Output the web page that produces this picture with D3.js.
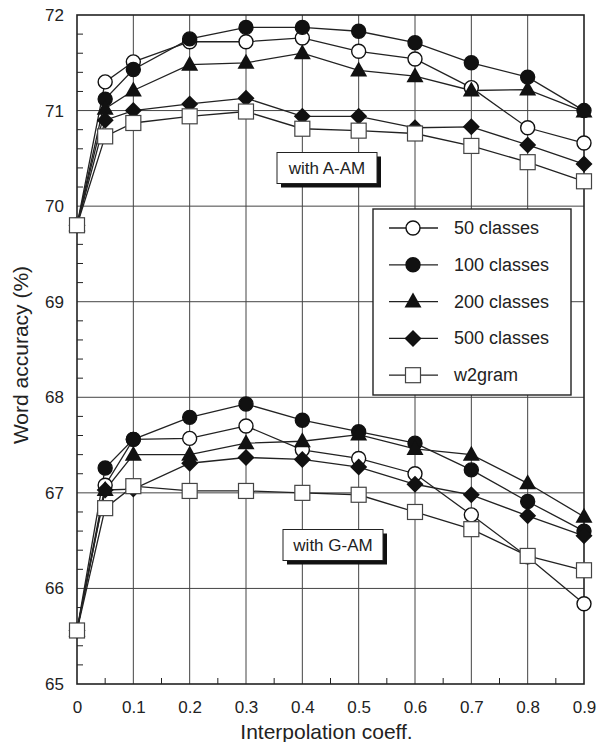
<!DOCTYPE html>
<html>
<head>
<meta charset="utf-8">
<script src="https://cdn.jsdelivr.net/npm/d3@7"></script>
<style>
  body { margin: 0; background: #fff; }
  text { font-family: "Liberation Sans", Arial, sans-serif; fill: #222; }
</style>
</head>
<body>
<div id="chart"></div>
<script>
// ------------------------------------------------------------- Data
var xValues = [0, 0.05, 0.1, 0.2, 0.3, 0.4, 0.5, 0.6, 0.7, 0.8, 0.9];

// with A-AM
var aam50    = [69.8, 71.30, 71.51, 71.72, 71.72, 71.76, 71.62, 71.54, 71.24, 70.82, 70.66];
var aam100   = [69.8, 71.12, 71.43, 71.75, 71.87, 71.87, 71.83, 71.71, 71.50, 71.35, 71.00];
var aam200   = [69.8, 71.02, 71.21, 71.48, 71.50, 71.60, 71.42, 71.36, 71.21, 71.22, 70.99];
var aam500   = [69.8, 70.90, 71.00, 71.07, 71.13, 70.94, 70.94, 70.82, 70.83, 70.64, 70.44];
var aamW2    = [69.8, 70.73, 70.87, 70.94, 70.99, 70.81, 70.79, 70.76, 70.63, 70.46, 70.26];

// with G-AM
var gam50    = [65.56, 67.08, 67.56, 67.57, 67.70, 67.45, 67.36, 67.20, 66.77, 66.33, 65.84];
var gam100   = [65.56, 67.26, 67.56, 67.79, 67.93, 67.76, 67.64, 67.52, 67.24, 66.91, 66.60];
var gam200   = [65.56, 67.03, 67.40, 67.40, 67.52, 67.54, 67.61, 67.46, 67.40, 67.10, 66.75];
var gam500   = [65.56, 67.03, 67.04, 67.31, 67.37, 67.35, 67.27, 67.09, 66.98, 66.76, 66.55];
var gamW2    = [65.56, 66.84, 67.07, 67.02, 67.02, 67.00, 66.98, 66.80, 66.62, 66.34, 66.19];

var seriesNames  = ['50 classes', '100 classes', '200 classes', '500 classes', 'w2gram'];
var seriesShapes = ['circleOpen', 'circle', 'triangle', 'diamond', 'square'];
var xTicks = [0, 0.1, 0.2, 0.3, 0.4, 0.5, 0.6, 0.7, 0.8, 0.9];
var yTicks = [65, 66, 67, 68, 69, 70, 71, 72];
// ------------------------------------------------------------ /Data

var groups = [
  [aam50, aam100, aam200, aam500, aamW2],
  [gam50, gam100, gam200, gam500, gamW2]
];

var W = 598, H = 742;
var margin = {top: 15, right: 14, bottom: 58, left: 77},
    width  = W - margin.left - margin.right,
    height = H - margin.top - margin.bottom;

var x = d3.scaleLinear().domain([0, 0.9]).range([0, width]);
var y = d3.scaleLinear().domain([65, 72]).range([height, 0]);

var svg = d3.select('#chart').append('svg')
    .attr('width', W)
    .attr('height', H)
  .append('g')
    .attr('transform', 'translate(' + margin.left + ',' + margin.top + ')');

// grid
svg.append('g').selectAll('line')
    .data(xTicks.slice(1, -1))
  .enter().append('line')
    .attr('x1', function(d) { return x(d); })
    .attr('x2', function(d) { return x(d); })
    .attr('y1', 0).attr('y2', height)
    .attr('stroke', '#444').attr('stroke-width', 1);

svg.append('g').selectAll('line')
    .data(yTicks.slice(1, -1))
  .enter().append('line')
    .attr('y1', function(d) { return y(d); })
    .attr('y2', function(d) { return y(d); })
    .attr('x1', 0).attr('x2', width)
    .attr('stroke', '#444').attr('stroke-width', 1);

// minor ticks (inward)
var xMinor = d3.range(1, 18, 2).map(function(i) { return i * 0.05; });
svg.append('g').selectAll('line')
    .data(xMinor)
  .enter().append('line')
    .attr('x1', function(d) { return x(d); })
    .attr('x2', function(d) { return x(d); })
    .attr('y1', height).attr('y2', height - 6)
    .attr('stroke', '#222');

var yMinor = d3.range(65, 72.01, 0.2).filter(function(v) {
  return Math.abs(v - Math.round(v)) > 0.01;
});
svg.append('g').selectAll('line')
    .data(yMinor)
  .enter().append('line')
    .attr('y1', function(d) { return y(d); })
    .attr('y2', function(d) { return y(d); })
    .attr('x1', 0).attr('x2', 6)
    .attr('stroke', '#222');

// frame
svg.append('rect')
    .attr('width', width).attr('height', height)
    .attr('fill', 'none').attr('stroke', '#222').attr('stroke-width', 1.6);

// axes
var xAxis = d3.axisBottom(x).tickValues(xTicks).tickSize(0).tickPadding(17)
    .tickFormat(function(d) { return d === 0 ? '0' : d3.format('.1f')(d); });
var yAxis = d3.axisLeft(y).tickValues(yTicks).tickSize(0).tickPadding(13)
    .tickFormat(d3.format('d'));

var gx = svg.append('g').attr('transform', 'translate(0,' + height + ')').call(xAxis);
var gy = svg.append('g').call(yAxis);
[gx, gy].forEach(function(g) {
  g.select('.domain').remove();
  g.selectAll('text').style('font-size', '17px').style('font-family', '"Liberation Sans", Arial, sans-serif').attr('fill', '#222');
});

svg.append('text')
    .attr('x', width / 2 - 4).attr('y', height + 55)
    .attr('text-anchor', 'middle')
    .style('font-size', '21px')
    .text('Interpolation coeff.');

svg.append('text')
    .attr('transform', 'translate(' + (-49) + ',' + (340) + ') rotate(-90)')
    .attr('text-anchor', 'middle')
    .style('font-size', '21px')
    .text('Word accuracy (%)');

// annotation boxes
function noteBox(cx, cy, label) {
  var bw = 100, bh = 31;
  var g = svg.append('g');
  g.append('rect')
      .attr('x', cx - bw / 2 + 4).attr('y', cy - bh / 2 + 4)
      .attr('width', bw).attr('height', bh).attr('fill', '#111');
  g.append('rect')
      .attr('x', cx - bw / 2).attr('y', cy - bh / 2)
      .attr('width', bw).attr('height', bh)
      .attr('fill', '#fff').attr('stroke', '#222').attr('stroke-width', 1);
  g.append('text')
      .attr('x', cx).attr('y', cy + 6)
      .attr('text-anchor', 'middle')
      .style('font-size', '17px')
      .text(label);
}
noteBox(327 - margin.left, 168 - margin.top, 'with A-AM');
noteBox(333 - margin.left, 545 - margin.top, 'with G-AM');

// markers
function drawMarker(g, shape, cx, cy) {
  if (shape === 'circleOpen' || shape === 'circle') {
    g.append('circle').attr('cx', cx).attr('cy', cy).attr('r', 7)
        .attr('fill', shape === 'circle' ? '#111' : '#fff')
        .attr('stroke', '#111').attr('stroke-width', 1.4);
  } else if (shape === 'triangle') {
    g.append('path')
        .attr('d', 'M' + cx + ',' + (cy - 9) + 'L' + (cx + 8.5) + ',' + (cy + 6) + 'L' + (cx - 8.5) + ',' + (cy + 6) + 'Z')
        .attr('fill', '#111');
  } else if (shape === 'diamond') {
    g.append('path')
        .attr('d', 'M' + cx + ',' + (cy - 8.5) + 'L' + (cx + 8.5) + ',' + cy + 'L' + cx + ',' + (cy + 8.5) + 'L' + (cx - 8.5) + ',' + cy + 'Z')
        .attr('fill', '#111');
  } else {
    g.append('rect').attr('x', cx - 7.5).attr('y', cy - 7.5)
        .attr('width', 15).attr('height', 15)
        .attr('fill', '#fff').attr('stroke', '#444').attr('stroke-width', 1.2);
  }
}

var line = d3.line()
    .x(function(d) { return x(d[0]); })
    .y(function(d) { return y(d[1]); });

groups.forEach(function(group) {
  group.forEach(function(vals) {
    var pts = xValues.map(function(xv, i) { return [xv, vals[i]]; });
    svg.append('path').datum(pts)
        .attr('d', line)
        .attr('fill', 'none').attr('stroke', '#222').attr('stroke-width', 1.3);
  });
});

groups.forEach(function(group) {
  group.forEach(function(vals, si) {
    var g = svg.append('g');
    xValues.forEach(function(xv, i) {
      drawMarker(g, seriesShapes[si], x(xv), y(vals[i]));
    });
  });
});

// legend
var lg = svg.append('g').attr('transform', 'translate(' + (373 - margin.left) + ',' + (209 - margin.top) + ')');
lg.append('rect')
    .attr('width', 198).attr('height', 186)
    .attr('fill', '#fff').attr('stroke', '#222').attr('stroke-width', 1.4);
seriesNames.forEach(function(name, i) {
  var ry = 19 + i * 36.8;
  var row = lg.append('g');
  row.append('line').attr('x1', 16).attr('x2', 65).attr('y1', ry).attr('y2', ry)
      .attr('stroke', '#222').attr('stroke-width', 1.3);
  drawMarker(row, seriesShapes[i], 40, ry);
  row.append('text').attr('x', 81).attr('y', ry + 6)
      .style('font-size', '18px')
      .text(name);
});
</script>
</body>
</html>
